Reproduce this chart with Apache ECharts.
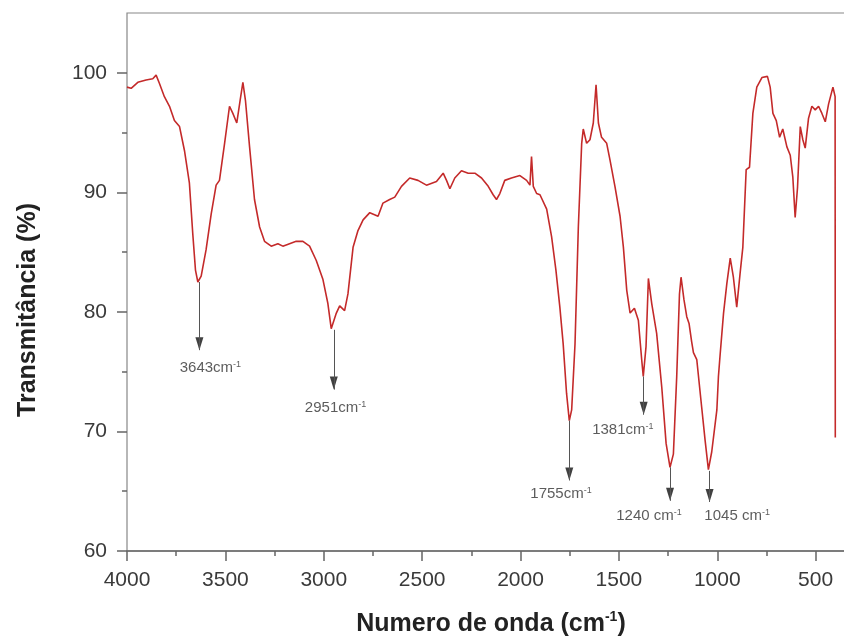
<!DOCTYPE html>
<html>
<head>
<meta charset="utf-8">
<script src="https://cdn.jsdelivr.net/npm/echarts@6/dist/echarts.min.js"></script>
<style>html,body{margin:0;padding:0;background:#fff}#c{width:844px;height:638px}</style>
</head>
<body>
<div id="c"></div>
<script>
// Wavenumber (cm-1) and transmittance (%)
const wavenumber = [4000,3979,3945,3903,3869,3852,3835,3810,3784,3759,3733,3708,3683,3666,3652,3640,3623,3598,3572,3547,3530,3504,3479,3462,3442,3425,3411,3398,3377,3352,3326,3301,3267,3233,3208,3174,3140,3106,3072,3038,3004,2979,2962,2953,2936,2919,2894,2877,2851,2826,2800,2766,2724,2699,2665,2639,2605,2563,2521,2478,2427,2393,2376,2359,2334,2300,2266,2232,2198,2164,2139,2122,2105,2080,2046,2003,1969,1952,1944,1935,1918,1901,1867,1842,1820,1800,1783,1766,1752,1740,1723,1706,1689,1681,1664,1647,1630,1616,1604,1588,1562,1545,1520,1494,1477,1460,1443,1421,1401,1384,1376,1362,1350,1333,1308,1282,1260,1240,1223,1206,1192,1184,1169,1155,1143,1130,1121,1104,1079,1062,1045,1028,1002,994,985,968,951,934,918,901,884,870,853,836,819,799,773,745,731,717,700,683,667,646,629,616,604,592,578,565,553,536,519,502,485,468,451,434,412,401,400];
const transmittance = [98.8,98.7,99.2,99.4,99.5,99.8,99.1,98.0,97.2,96.0,95.5,93.5,90.8,86.6,83.5,82.5,83.0,85.2,88.2,90.6,91.0,94.1,97.2,96.6,95.8,97.7,99.2,97.7,93.8,89.4,87.1,85.9,85.5,85.7,85.5,85.7,85.9,85.9,85.5,84.3,82.7,80.7,78.6,78.5,79.9,80.5,80.1,81.5,85.4,86.8,87.7,88.3,88.0,89.1,89.4,89.6,90.5,91.2,91.0,90.6,90.9,91.6,91.0,90.3,91.2,91.8,91.6,91.6,91.2,90.5,89.8,89.4,89.9,91.0,91.2,91.4,91.0,90.6,93.0,90.5,89.9,89.8,88.6,86.3,83.5,80.4,77.3,73.2,70.9,71.8,77.3,87.1,94.1,95.3,94.1,94.4,95.8,99.0,95.8,94.6,94.1,92.7,90.5,88.0,85.4,81.8,79.9,80.3,79.3,76.0,74.6,77.1,82.8,80.7,78.2,73.7,69.0,67.0,68.1,74.6,81.5,82.9,81.0,79.6,79.0,77.5,76.6,76.0,72.0,69.3,66.8,68.3,71.8,74.6,76.5,79.9,82.4,84.5,82.9,80.4,83.2,85.4,91.9,92.1,96.6,98.8,99.6,99.7,98.8,96.6,96.0,94.6,95.3,93.8,93.1,91.3,87.9,90.4,95.5,94.4,93.7,96.2,97.2,96.9,97.2,96.6,95.9,97.4,98.8,98.0,69.5];

// Peak annotations
const peakText = ['3643cm', '2951cm', '1755cm', '1381cm', '1240 cm', '1045 cm'];
const arrowX = [3632, 2949, 1752, 1374, 1240, 1039];
const arrowTop = [82.5, 78.5, 70.9, 74.6, 67.0, 66.7];
const arrowTip = [76.8, 73.5, 65.9, 71.4, 64.2, 64.1];
const labelX = [3576, 2940, 1794, 1480, 1347, 899];
const labelY = [75.3, 72.0, 64.75, 70.1, 62.9, 62.9];

// Axis ticks
const xMin = 0, xMax = 4000, xStep = 500;
const yMin = 60, yMax = 105;
const yMajor = [60, 70, 80, 90, 100];
const yMinor = [65, 75, 85, 95];

const chart = echarts.init(document.getElementById('c'), null, {renderer: 'canvas'});
const FONT = '"Liberation Sans", Arial, sans-serif';
const axisGrey = '#666';

const lineData = wavenumber.map((w, i) => [w, transmittance[i]]);
const markData = arrowX.map((x, i) => [{coord: [x, arrowTop[i]]}, {coord: [x, arrowTip[i]]}]);
const headData = arrowX.map((x, i) => [x, arrowTip[i]]);
const labelData = peakText.map((t, i) => [labelX[i], labelY[i], t]);

function tickAxis(values, len) {
  return {
    type: 'value', min: yMin, max: yMax, position: 'left', offset: 0,
    axisLine: {show: false},
    axisTick: {show: true, length: len, customValues: values, lineStyle: {color: axisGrey, width: 1.5}},
    axisLabel: {show: false},
    splitLine: {show: false}
  };
}

chart.setOption({
  animation: false,
  backgroundColor: '#fff',
  grid: {left: 127, top: 13, width: 787, height: 538, show: true, borderColor: '#888', borderWidth: 1.2,
         containLabel: false, outerBoundsMode: 'none'},
  xAxis: {
    type: 'value', min: xMin, max: xMax, interval: xStep, inverse: true,
    axisLine: {lineStyle: {color: axisGrey, width: 1.5}},
    axisTick: {length: 10, lineStyle: {color: axisGrey, width: 1.5}},
    minorTick: {show: true, splitNumber: 2, length: 5, lineStyle: {color: axisGrey, width: 1.5}},
    axisLabel: {fontFamily: FONT, fontSize: 21, color: '#3a3a3a', margin: 19, formatter: v => String(v)},
    splitLine: {show: false}
  },
  yAxis: [{
    type: 'value', min: yMin, max: yMax, position: 'left', offset: 0,
    axisLine: {show: true, lineStyle: {color: axisGrey, width: 1.5}},
    axisTick: {show: false},
    axisLabel: {fontFamily: FONT, fontSize: 21, color: '#3a3a3a', margin: 20, customValues: yMajor},
    splitLine: {show: false}
  }, tickAxis(yMajor, 10), tickAxis(yMinor, 5)],
  series: [{
    type: 'line', data: lineData, showSymbol: false, symbol: 'none',
    lineStyle: {color: '#c42a2a', width: 1.6},
    markLine: {
      silent: true, symbol: ['none', 'none'],
      lineStyle: {color: '#555', width: 1, type: 'solid'},
      label: {show: false},
      data: markData
    }
  }, {
    type: 'scatter', data: headData,
    symbol: 'path://M0,0 L10,0 L5,17 Z', symbolKeepAspect: false,
    symbolSize: [8, 13], symbolOffset: [0, '-50%'],
    itemStyle: {color: '#111'}, silent: true
  }, {
    type: 'scatter', data: labelData, symbolSize: 0, silent: true,
    label: {
      show: true, position: 'inside',
      formatter: p => '{n|' + p.data[2] + '}{s|-1}',
      rich: {
        n: {fontFamily: FONT, fontSize: 15, color: '#333', lineHeight: 16},
        s: {fontFamily: FONT, fontSize: 9, color: '#333', verticalAlign: 'top', lineHeight: 9}
      }
    }
  }],
  graphic: [{
    type: 'text', x: 491, y: 624,
    style: {
      text: '{t|Numero de onda (cm}{s|-1}{t|)}',
      align: 'center', verticalAlign: 'middle',
      rich: {
        t: {fontFamily: FONT, fontSize: 25, fontWeight: 'bold', fill: '#222', lineHeight: 28},
        s: {fontFamily: FONT, fontSize: 14, fontWeight: 'bold', fill: '#222', verticalAlign: 'top', lineHeight: 14}
      }
    }
  }, {
    type: 'text', x: 28, y: 310, rotation: Math.PI / 2,
    style: {
      text: 'Transmitância (%)', align: 'center', verticalAlign: 'middle',
      fontFamily: FONT, fontSize: 25, fontWeight: 'bold', fill: '#222'
    }
  }]
});
</script>
</body>
</html>
